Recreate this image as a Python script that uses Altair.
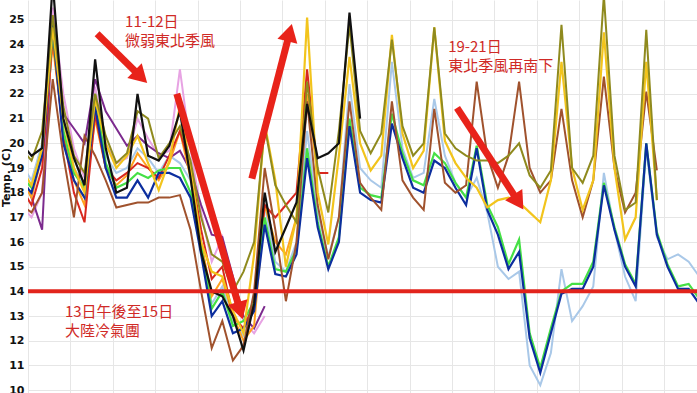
import math
import altair as alt
import pandas as pd

# ---------------- data (6-hourly, local 02/08/14/20h; t in days) ----------------
T_START = -1 / 6
T_STEP = 0.25

black = [20.0, 19.5, 19.8, 26.5, 21.0, 19.4, 18.3, 23.4, 19.8, 18.0, 18.2, 22.0, 19.5, 19.3, 19.9, 21.3,
         18.6, 15.6, 14.0, 13.8, 13.0, 11.6, 13.5, 18.0, 15.6, 16.6, 17.6, 21.6, 19.4, 19.6, 20.0, 25.3, 21.0]
purple = [18.8, 17.8, 16.5, 25.0, 21.2, 20.6, 20.0, 22.6, 21.3, 20.6, 19.9, 20.3, 19.9, 19.6, 19.4, 19.7,
          18.9, 17.5, 16.3, 16.2, 14.6, 13.0, 12.5, 13.4]
pink = [17.5, 17.0, 18.0, 25.5, 22.0, 19.8, 18.6, 22.3, 20.0, 19.2, 19.4, 21.0, 20.2, 19.5, 19.7, 23.0,
        19.8, 17.2, 15.2, 16.2, 14.0, 12.8, 12.3, 13.0]
olive = [19.8, 19.3, 20.5, 25.2, 21.5, 19.5, 18.8, 22.0, 20.3, 19.2, 19.6, 21.3, 21.0, 19.4, 20.0, 20.7,
         19.3, 17.0, 15.5, 15.2, 14.0, 14.8, 16.0, 20.7, 18.3, 17.5, 16.8, 22.5, 19.0, 17.2, 20.5, 24.8,
         20.5, 19.6, 20.4, 24.2, 20.7, 19.5, 20.0, 24.7, 20.4, 19.8, 19.5, 19.3, 19.3, 19.2, 19.5, 20.0,
         18.7, 18.2, 18.9, 24.8, 19.0, 18.4, 19.5, 26.0, 19.5, 17.3, 17.6, 24.6, 17.7]
gold = [19.0, 18.3, 19.8, 24.7, 21.0, 19.0, 18.0, 21.8, 20.0, 19.0, 19.5, 20.3, 19.2, 18.1, 19.3, 21.5,
        19.0, 16.0, 14.8, 14.6, 13.2, 12.3, 15.5, 20.8, 18.5, 15.0, 17.0, 25.1, 18.0, 15.9, 19.5, 23.5,
        20.0, 18.9, 19.5, 24.4, 20.4, 19.0, 19.7, 24.7, 20.1, 19.2, 18.6, 18.2, 17.4, 17.7, 17.8, 17.6,
        17.2, 16.8, 18.5, 23.3, 19.0, 17.3, 18.5, 24.5, 19.0, 16.1, 17.0, 23.3, 17.7]
brown = [17.5, 17.2, 18.0, 22.6, 19.5, 17.0, 20.3, 19.5, 18.5, 17.4, 17.5, 17.6, 17.6, 17.8, 17.8, 17.9,
         16.5, 14.0, 11.7, 12.8, 11.2, 11.8, 14.0, 19.0, 16.5, 13.6, 16.0, 21.7, 17.5, 15.3, 17.0, 21.7,
         18.4, 17.8, 17.3, 21.7, 18.5, 17.8, 17.3, 21.4, 18.4, 18.0, 18.3, 22.5, 19.5, 18.2, 19.5, 22.5,
         19.0, 18.0, 18.5, 21.4, 18.5, 17.0, 18.5, 22.7, 19.0, 17.2, 18.0, 22.1, 18.9]
blue = [18.5, 18.0, 19.5, 24.8, 20.0, 18.5, 17.8, 21.5, 19.0, 17.8, 17.8, 18.5, 17.8, 18.8, 18.8, 18.6,
        17.8, 15.5, 13.0, 13.6, 12.3, 12.5, 13.2, 16.7, 14.7, 14.6, 15.5, 19.4, 16.6, 14.9, 16.0, 20.7,
        18.0, 17.7, 17.6, 20.8, 19.4, 18.2, 18.0, 19.3, 19.0, 18.2, 17.5, 19.8, 17.3, 16.3, 14.9, 15.6,
        12.1, 10.7, 12.3, 13.9, 14.1, 14.1, 15.0, 18.3, 16.5, 15.0, 14.2, 20.0, 16.3, 15.0, 14.1, 14.1, 13.5]
green = [18.7, 18.2, 19.8, 24.5, 20.5, 18.8, 18.2, 22.0, 19.2, 18.2, 18.4, 18.8, 18.6, 18.9, 19.0, 19.0,
         18.0, 15.8, 13.3, 14.0, 12.6, 12.8, 13.6, 17.0, 14.9, 14.8, 15.7, 19.8, 16.8, 15.0, 16.2, 21.0,
         18.2, 17.9, 17.8, 21.2, 19.6, 18.5, 18.3, 19.6, 19.2, 18.4, 17.8, 19.9, 17.5, 16.6, 15.1, 16.1,
         12.3, 10.9, 12.5, 14.0, 14.3, 14.3, 15.2, 18.4, 16.6, 15.1, 14.3, 20.0, 16.4, 15.1, 14.2, 14.3, 13.7]
lightblue = [19.2, 18.5, 20.0, 24.5, 21.0, 19.0, 18.3, 21.8, 19.5, 18.8, 19.0, 19.8, 19.4, 18.8, 19.5, 19.2,
             18.5, 16.0, 13.5, 14.2, 12.8, 12.2, 13.8, 17.5, 15.2, 14.8, 16.0, 20.5, 17.2, 15.4, 17.0, 22.4,
             19.0, 18.5, 18.2, 23.3, 19.8, 18.6, 18.8, 21.8, 19.5, 18.4, 17.8, 18.6, 17.2, 15.0, 14.5, 14.8,
             11.0, 10.2, 11.5, 14.9, 12.8, 13.4, 14.2, 18.8, 16.5, 14.6, 13.6, 19.8, 16.2, 15.3, 15.5, 15.2, 14.6]
orange = [18.6, 17.8, 19.5, 24.0, 20.5, 18.5, 17.5, 21.0, 19.0, 18.3, 18.7, 19.6, 19.0, 18.5, 19.2, 20.5,
          18.6, 16.0, 13.8, 14.5, 13.0, 12.0, 12.6, 17.5, 16.0, 15.5, 17.0, 22.0, 18.7]
red = [18.2, 17.5, 19.0, 24.3, 20.3, 18.0, 16.8, 21.2, 19.0, 18.5, 18.8, 19.2, 19.0, 18.6, 19.5, 20.5,
       19.0, 16.5, 14.5, 15.0, 13.0, 12.5, 13.5, 17.5, 17.0, 17.5, 18.0, 23.0, 18.8, 18.8]

# threshold line
REF_TEMP = 14

# annotations (t, v, text)
note_t = [2.29, 2.29, 9.91, 9.91, 0.87, 0.87]
note_v = [24.93, 24.13, 23.92, 23.12, 13.18, 12.38]
note_text = ["11-12日", "微弱東北季風", "19-21日", "東北季風再南下", "13日午後至15日", "大陸冷氣團"]

# arrows: start (t, v) -> tip (t, v)
arrow_t1 = [1.63, 3.51, 5.28, 10.12]
arrow_v1 = [24.44, 22.01, 18.57, 21.44]
arrow_t2 = [2.83, 5.07, 6.23, 11.70]
arrow_v2 = [22.41, 12.83, 24.88, 17.28]

# ---------------- chart ----------------
W, H = 669, 393
X_DOMAIN = [0, 15.78]
Y_DOMAIN = [9.88, 25.81]
PX_DAY = W / (X_DOMAIN[1] - X_DOMAIN[0])
PX_DEG = H / (Y_DOMAIN[1] - Y_DOMAIN[0])

GRID = "#e6e6e6"
x_axis = alt.Axis(values=list(range(0, 16)), labels=False, ticks=False, domain=False, title=None,
                  grid=True, gridColor=GRID, gridWidth=1)
y_axis = alt.Axis(values=list(range(10, 26)), ticks=False, domain=False, grid=True, gridColor=GRID,
                  gridWidth=1, labelFont="DejaVu Sans", labelFontWeight="bold", labelFontSize=11,
                  labelColor="#111111", labelPadding=4, title="Temp. (C)", titleFont="DejaVu Sans",
                  titleFontWeight="bold", titleFontSize=11, titleColor="#111111", titleAngle=270,
                  titleX=-22, titleY=177, titleAlign="center", titleBaseline="middle")
X = alt.X("t:Q", scale=alt.Scale(domain=X_DOMAIN, nice=False, zero=False), axis=x_axis)
Y = alt.Y("v:Q", scale=alt.Scale(domain=Y_DOMAIN, nice=False, zero=False), axis=y_axis)

series = [
    (lightblue, "#a9c8e8", 2.0),
    (pink, "#e7a3e3", 2.0),
    (purple, "#7c2a8e", 2.0),
    (orange, "#ffa21f", 2.0),
    (red, "#d8281e", 2.0),
    (green, "#45e045", 2.2),
    (blue, "#0c2e9e", 2.2),
    (brown, "#a0522d", 2.0),
    (gold, "#f2c41c", 2.2),
    (olive, "#8f8a1e", 2.0),
    (black, "#111111", 2.2),
]

layers = []
for vals, color, w in series:
    d = pd.DataFrame({"t": [T_START + k * T_STEP for k in range(len(vals))], "v": vals})
    layers.append(alt.Chart(d).mark_line(color=color, strokeWidth=w, clip=True).encode(x=X, y=Y))

# horizontal 14 C line
ref = pd.DataFrame({"v": [REF_TEMP]})
layers.append(alt.Chart(ref).mark_rule(color="#e2241c", strokeWidth=4).encode(y=Y))

# arrows
shaft_rows, head_rows = [], []
for t1, v1, t2, v2 in zip(arrow_t1, arrow_v1, arrow_t2, arrow_v2):
    dx = (t2 - t1) * PX_DAY
    dy = -(v2 - v1) * PX_DEG
    L = math.hypot(dx, dy)
    ux, uy = dx / L, dy / L
    ang = math.degrees(math.atan2(ux, -uy)) % 360
    shaft_rows.append({"t": t1, "v": v1, "t2": t2 - ux * 12 / PX_DAY, "v2": v2 + uy * 12 / PX_DEG})
    head_rows.append({"t": t2 - ux * 10 / PX_DAY, "v": v2 + uy * 10 / PX_DEG, "a": ang})
ARROW = "#e8231a"
layers.append(alt.Chart(pd.DataFrame(shaft_rows)).mark_rule(color=ARROW, strokeWidth=7, strokeCap="butt").encode(
    x=X, y=Y, x2=alt.X2("t2:Q"), y2=alt.Y2("v2:Q")))
layers.append(alt.Chart(pd.DataFrame(head_rows)).mark_point(
    shape="triangle-up", filled=True, color=ARROW, opacity=1, size=420, strokeWidth=0).encode(
    x=X, y=Y, angle=alt.Angle("a:Q", scale=None)))

# texts
notes = pd.DataFrame({"t": note_t, "v": note_v, "label": note_text})
layers.append(alt.Chart(notes).mark_text(align="left", baseline="middle", font="Noto Sans CJK TC",
                                         fontSize=15, color="#d02a26").encode(x=X, y=Y, text="label:N"))

chart = alt.layer(*layers).properties(
    width=W, height=H,
    padding={"left": 28, "top": 0, "right": 0, "bottom": 0},
    autosize=alt.AutoSizeParams(type="none"),
    background="white",
).configure_view(strokeWidth=0)

chart.save("out.html", embed_options={"renderer": "svg", "actions": False})
